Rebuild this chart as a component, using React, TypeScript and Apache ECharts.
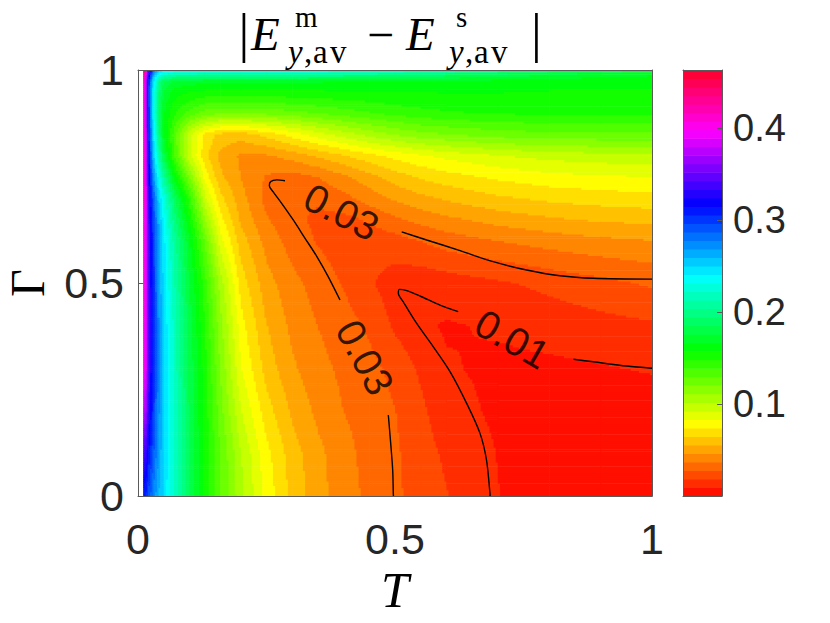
import React, { useEffect, useRef } from "react";
import * as echarts from "echarts";

// Grid nodes
const T_VALUES = [0.01, 0.015, 0.02, 0.03, 0.04, 0.05, 0.07, 0.1, 0.13, 0.16, 0.2, 0.25, 0.3, 0.35, 0.4, 0.45, 0.5, 0.55, 0.6, 0.7, 0.8, 0.9, 1.0];
const GAMMA_VALUES = [0, 0.1, 0.2, 0.3, 0.4, 0.5, 0.6, 0.65, 0.7, 0.75, 0.8, 0.85, 0.9, 0.95, 0.975, 0.99, 1.0];

// |E^m - E^s| estimated at each (T, Gamma) node, one row per Gamma value
const ROW_G000 = [0.31, 0.305, 0.295, 0.275, 0.26, 0.248, 0.222, 0.185, 0.155, 0.13, 0.105, 0.08, 0.062, 0.05, 0.041, 0.035, 0.0295, 0.024, 0.019, 0.0095, 0.005, 0.003, 0.002];
const ROW_G010 = [0.34, 0.335, 0.315, 0.29, 0.268, 0.25, 0.222, 0.184, 0.155, 0.13, 0.102, 0.077, 0.06, 0.049, 0.04, 0.034, 0.0293, 0.0225, 0.017, 0.009, 0.0045, 0.003, 0.002];
const ROW_G020 = [0.38, 0.37, 0.335, 0.3, 0.272, 0.252, 0.222, 0.183, 0.153, 0.125, 0.093, 0.069, 0.054, 0.044, 0.037, 0.0335, 0.028, 0.0205, 0.013, 0.0075, 0.005, 0.0045, 0.0045];
const ROW_G030 = [0.402, 0.392, 0.345, 0.305, 0.274, 0.252, 0.22, 0.182, 0.152, 0.12, 0.084, 0.061, 0.048, 0.04, 0.035, 0.031, 0.025, 0.017, 0.0101, 0.0075, 0.0075, 0.0085, 0.01];
const ROW_G040 = [0.407, 0.395, 0.345, 0.305, 0.273, 0.25, 0.22, 0.18, 0.148, 0.115, 0.078, 0.056, 0.044, 0.037, 0.032, 0.026, 0.017, 0.0105, 0.0085, 0.0102, 0.0125, 0.015, 0.017];
const ROW_G050 = [0.41, 0.396, 0.345, 0.303, 0.27, 0.247, 0.215, 0.176, 0.143, 0.108, 0.07, 0.05, 0.04, 0.033, 0.027, 0.02, 0.0135, 0.012, 0.0135, 0.017, 0.021, 0.025, 0.029];
const ROW_G060 = [0.41, 0.396, 0.343, 0.3, 0.267, 0.244, 0.21, 0.168, 0.128, 0.088, 0.06, 0.043, 0.033, 0.027, 0.023, 0.022, 0.024, 0.028, 0.032, 0.037, 0.041, 0.044, 0.046];
const ROW_G065 = [0.41, 0.396, 0.34, 0.296, 0.262, 0.238, 0.2, 0.157, 0.112, 0.078, 0.054, 0.038, 0.03, 0.026, 0.025, 0.029, 0.035, 0.04, 0.044, 0.05, 0.054, 0.057, 0.058];
const ROW_G070 = [0.412, 0.396, 0.337, 0.288, 0.252, 0.23, 0.19, 0.145, 0.095, 0.068, 0.05, 0.034, 0.028, 0.029, 0.034, 0.041, 0.048, 0.053, 0.057, 0.063, 0.067, 0.069, 0.071];
const ROW_G075 = [0.415, 0.395, 0.33, 0.272, 0.235, 0.208, 0.165, 0.12, 0.08, 0.058, 0.046, 0.036, 0.033, 0.037, 0.044, 0.052, 0.06, 0.066, 0.07, 0.076, 0.08, 0.082, 0.083];
const ROW_G080 = [0.42, 0.392, 0.322, 0.255, 0.212, 0.182, 0.14, 0.095, 0.068, 0.053, 0.045, 0.045, 0.05, 0.057, 0.064, 0.071, 0.077, 0.082, 0.086, 0.092, 0.096, 0.098, 0.1];
const ROW_G085 = [0.42, 0.39, 0.315, 0.245, 0.2, 0.168, 0.135, 0.095, 0.072, 0.062, 0.06, 0.068, 0.078, 0.088, 0.097, 0.105, 0.112, 0.117, 0.12, 0.125, 0.127, 0.128, 0.128];
const ROW_G090 = [0.42, 0.388, 0.31, 0.235, 0.19, 0.167, 0.15, 0.135, 0.125, 0.122, 0.122, 0.123, 0.126, 0.13, 0.134, 0.138, 0.142, 0.145, 0.147, 0.149, 0.15, 0.15, 0.15];
const ROW_G095 = [0.42, 0.385, 0.305, 0.235, 0.197, 0.176, 0.163, 0.158, 0.156, 0.155, 0.155, 0.155, 0.156, 0.156, 0.157, 0.157, 0.158, 0.158, 0.158, 0.158, 0.157, 0.157, 0.157];
const ROW_G0975 = [0.43, 0.385, 0.31, 0.245, 0.205, 0.185, 0.175, 0.171, 0.17, 0.169, 0.169, 0.169, 0.168, 0.168, 0.167, 0.167, 0.166, 0.166, 0.165, 0.163, 0.161, 0.16, 0.159];
const ROW_G099 = [0.44, 0.395, 0.33, 0.265, 0.235, 0.218, 0.21, 0.206, 0.205, 0.205, 0.204, 0.204, 0.203, 0.202, 0.2, 0.198, 0.195, 0.192, 0.189, 0.183, 0.176, 0.171, 0.168];
const ROW_G100 = [0.46, 0.41, 0.35, 0.285, 0.258, 0.245, 0.238, 0.236, 0.235, 0.235, 0.234, 0.233, 0.232, 0.23, 0.228, 0.225, 0.221, 0.216, 0.211, 0.198, 0.188, 0.18, 0.175];

const FIELD_ROWS = [ROW_G000, ROW_G010, ROW_G020, ROW_G030, ROW_G040, ROW_G050, ROW_G060, ROW_G065, ROW_G070, ROW_G075, ROW_G080, ROW_G085, ROW_G090, ROW_G095, ROW_G0975, ROW_G099, ROW_G100];

// Contour lines [T, Gamma], split where the labels sit
const CONTOUR_003_LOWER = [[0.497, 0], [0.4967, 0.006], [0.4955, 0.061], [0.4916, 0.124], [0.487, 0.19]];
const CONTOUR_003_TIP = [[0.393, 0.46], [0.37, 0.515], [0.348, 0.562], [0.325, 0.605], [0.302, 0.648], [0.2795, 0.687], [0.263, 0.714], [0.2555, 0.728], [0.258, 0.738], [0.27, 0.742], [0.286, 0.74]];
const CONTOUR_003_UPPER = [[0.513, 0.62], [0.5616, 0.601], [0.6265, 0.576], [0.691, 0.55], [0.756, 0.5305], [0.821, 0.517], [0.886, 0.511], [1.0, 0.509]];
const CONTOUR_001_RIGHT = [[0.847, 0.321], [0.886, 0.315], [0.951, 0.305], [1.0, 0.3]];
const CONTOUR_001_TIP = [[0.623, 0.433], [0.5875, 0.448], [0.5486, 0.4695], [0.5227, 0.482], [0.5084, 0.485], [0.5065, 0.476], [0.516, 0.456], [0.5422, 0.405], [0.5746, 0.35], [0.607, 0.292], [0.6394, 0.2175], [0.6654, 0.147], [0.678, 0.0845], [0.6848, 0.006], [0.685, 0]];
const CONTOUR_SEGMENTS = [CONTOUR_003_LOWER, CONTOUR_003_TIP, CONTOUR_003_UPPER, CONTOUR_001_RIGHT, CONTOUR_001_TIP];

const CONTOUR_LABEL_TEXT = ["0.03", "0.03", "0.01"];
const CONTOUR_LABEL_POS = [[0.396, 0.667], [0.4416, 0.3255], [0.728, 0.3685]];
const CONTOUR_LABEL_ROTATE = [-27, -62, -30];

const AXIS_TICKS = [0, 0.5, 1];
const COLORBAR_TICKS = [0.1, 0.2, 0.3, 0.4];
const COLOR_MAX = 0.463;
const N_LEVELS = 50;
const HUE_SPAN = 350;

const LEVEL_STEP = COLOR_MAX / N_LEVELS;
const LEVEL_INDEX = Array.from({ length: N_LEVELS }, (_, k) => k);

function hsvColor(h: number): string {
  const hp = h / 60;
  const x = 1 - Math.abs((hp % 2) - 1);
  let r = 0, g = 0, b = 0;
  if (hp < 1) { r = 1; g = x; }
  else if (hp < 2) { r = x; g = 1; }
  else if (hp < 3) { g = 1; b = x; }
  else if (hp < 4) { g = x; b = 1; }
  else if (hp < 5) { r = x; b = 1; }
  else { r = 1; b = x; }
  return `rgb(${Math.round(r * 255)},${Math.round(g * 255)},${Math.round(b * 255)})`;
}
const BAND_COLORS = LEVEL_INDEX.map((k) => hsvColor(((k + 0.5) / N_LEVELS) * HUE_SPAN));
function colorOf(v: number): string {
  let k = Math.floor(v / LEVEL_STEP);
  if (k < 0) k = 0;
  if (k > N_LEVELS - 1) k = N_LEVELS - 1;
  return BAND_COLORS[k];
}

const SUB_PX = 2.2;

function renderField(params: any, api: any) {
  const i = api.value(2) as number;
  const j = api.value(3) as number;
  const pA = api.coord([T_VALUES[i], GAMMA_VALUES[j]]);
  const pB = api.coord([T_VALUES[i + 1], GAMMA_VALUES[j + 1]]);
  const x0 = pA[0];
  const yb = pA[1];
  const w = pB[0] - pA[0];
  const h = pA[1] - pB[1];
  const v00 = FIELD_ROWS[j][i], v10 = FIELD_ROWS[j][i + 1];
  const v01 = FIELD_ROWS[j + 1][i], v11 = FIELD_ROWS[j + 1][i + 1];
  const nx = Math.max(1, Math.ceil(w / SUB_PX));
  const ny = Math.max(1, Math.ceil(h / SUB_PX));
  const children: any[] = [];
  for (let b = 0; b < ny; b++) {
    const fy = (b + 0.5) / ny;
    const yTop = yb - ((b + 1) * h) / ny;
    let start = 0;
    let cur = "";
    for (let a = 0; a <= nx; a++) {
      let c = "";
      if (a < nx) {
        const fx = (a + 0.5) / nx;
        const v = v00 * (1 - fx) * (1 - fy) + v10 * fx * (1 - fy) + v01 * (1 - fx) * fy + v11 * fx * fy;
        c = colorOf(v);
      }
      if (a === nx || c !== cur) {
        if (cur !== "") {
          children.push({
            type: "rect",
            shape: { x: x0 + (start * w) / nx, y: yTop, width: ((a - start) * w) / nx + 0.6, height: h / ny + 0.6 },
            style: { fill: cur },
          });
        }
        start = a;
        cur = c;
      }
    }
  }
  return { type: "group", children };
}

function renderBand(params: any, api: any) {
  const k = api.value(2) as number;
  const lo = api.coord([0, k * LEVEL_STEP]);
  const hi = api.coord([1, (k + 1) * LEVEL_STEP]);
  return {
    type: "rect",
    shape: { x: lo[0], y: hi[1], width: hi[0] - lo[0], height: lo[1] - hi[1] + 0.6 },
    style: { fill: BAND_COLORS[k] },
  };
}

const FRAME = "#5a5a5a";
const TICK_TEXT = "#262626";

function lineOnlyAxis(gridIndex: number, position: string, max: number) {
  return {
    gridIndex,
    type: "value",
    position,
    min: 0,
    max,
    z: 10,
    axisLine: { show: true, onZero: false, lineStyle: { color: FRAME, width: 1 } },
    axisTick: { show: false },
    axisLabel: { show: false },
    splitLine: { show: false },
  };
}

function titleText(x: number, y: number, text: string, size: number, italic: boolean, lineHeight: number) {
  const font = `${italic ? "italic " : ""}${size}px "Liberation Serif"`;
  return {
    type: "text",
    x,
    y,
    silent: true,
    style: { text, font, fill: "#000", align: "left", verticalAlign: "middle", lineHeight },
  };
}

// superscript + subscript "y,av" placed after an italic E
function scripts(x: number, sup: string) {
  const ySup = 17.2;
  const ySub = 51.9;
  return [
    titleText(x + 7, ySup, sup, 29, false, 20),
    titleText(x, ySub, "y", 33, true, 22),
    titleText(x + 16, ySub, ",", 33, false, 22),
    titleText(x + 25, ySub, "a", 33, false, 22),
    titleText(x + 42, ySub, "v", 33, false, 22),
  ];
}

export default function App() {
  const ref = useRef<HTMLDivElement>(null);

  useEffect(() => {
    if (!ref.current) return;
    const chart = echarts.init(ref.current, undefined, { renderer: "svg" });

    const cells: number[][] = [];
    for (let j = 0; j < GAMMA_VALUES.length - 1; j++) {
      for (let i = 0; i < T_VALUES.length - 1; i++) {
        cells.push([T_VALUES[i], GAMMA_VALUES[j], i, j]);
      }
    }
    const bands = LEVEL_INDEX.map((k) => [0.5, (k + 0.5) * LEVEL_STEP, k]);

    const contourSeries = CONTOUR_SEGMENTS.map((seg) => ({
      type: "line",
      xAxisIndex: 0,
      yAxisIndex: 0,
      data: seg,
      smooth: 0.3,
      showSymbol: false,
      symbol: "none",
      silent: true,
      z: 3,
      lineStyle: { color: "#000", width: 1.4 },
    }));

    const option: any = {
      animation: false,
      grid: [
        { left: 138, top: 70, width: 514, height: 426, containLabel: false, outerBoundsMode: "none" },
        { left: 683, top: 70, width: 39, height: 426, containLabel: false, outerBoundsMode: "none" },
      ],
      xAxis: [
        {
          gridIndex: 0,
          type: "value",
          position: "bottom",
          min: AXIS_TICKS[0],
          max: AXIS_TICKS[2],
          interval: AXIS_TICKS[1],
          z: 10,
          axisLine: { show: true, onZero: false, lineStyle: { color: FRAME, width: 1 } },
          axisTick: { show: false },
          splitLine: { show: false },
          axisLabel: { margin: 21, fontSize: 43, color: TICK_TEXT, fontFamily: "Liberation Sans" },
          name: "T",
          nameLocation: "middle",
          nameGap: 67,
          nameTextStyle: { fontSize: 50, lineHeight: 50, fontStyle: "italic", fontFamily: "Liberation Serif", color: "#000" },
        },
        lineOnlyAxis(1, "bottom", 1),
        lineOnlyAxis(1, "top", 1),
        lineOnlyAxis(0, "top", 1),
      ],
      yAxis: [
        {
          gridIndex: 0,
          type: "value",
          position: "left",
          min: AXIS_TICKS[0],
          max: AXIS_TICKS[2],
          interval: AXIS_TICKS[1],
          z: 10,
          axisLine: { show: true, onZero: false, lineStyle: { color: FRAME, width: 1 } },
          axisTick: { show: true, inside: true, length: 5, lineStyle: { color: FRAME } },
          splitLine: { show: false },
          axisLabel: { margin: 14, fontSize: 43, color: TICK_TEXT, fontFamily: "Liberation Sans" },
          name: "Γ",
          nameLocation: "middle",
          nameGap: 91,
          nameRotate: 90,
          nameTextStyle: { fontSize: 48, lineHeight: 40, fontFamily: "Liberation Serif", color: "#000" },
        },
        {
          gridIndex: 1,
          type: "value",
          position: "right",
          min: 0,
          max: COLOR_MAX,
          z: 10,
          axisLine: { show: true, onZero: false, lineStyle: { color: FRAME, width: 1 } },
          axisTick: { show: true, inside: true, length: 5, customValues: COLORBAR_TICKS, lineStyle: { color: FRAME } },
          splitLine: { show: false },
          axisLabel: { customValues: COLORBAR_TICKS, margin: 11, fontSize: 38, color: TICK_TEXT, fontFamily: "Liberation Sans" },
        },
        lineOnlyAxis(1, "left", COLOR_MAX),
        lineOnlyAxis(0, "right", 1),
      ],
      series: [
        {
          type: "custom",
          xAxisIndex: 0,
          yAxisIndex: 0,
          data: cells,
          renderItem: renderField,
          silent: true,
          z: 2,
        },
        {
          type: "custom",
          xAxisIndex: 1,
          yAxisIndex: 1,
          data: bands,
          renderItem: renderBand,
          silent: true,
          z: 2,
        },
        ...contourSeries,
        {
          type: "scatter",
          xAxisIndex: 0,
          yAxisIndex: 0,
          symbolSize: 1,
          itemStyle: { color: "rgba(0,0,0,0)" },
          silent: true,
          z: 4,
          data: CONTOUR_LABEL_POS.map((p, k) => ({
            value: p,
            name: CONTOUR_LABEL_TEXT[k],
            label: { rotate: CONTOUR_LABEL_ROTATE[k] },
          })),
          label: {
            show: true,
            position: "inside",
            formatter: "{b}",
            fontSize: 40,
            color: "#000",
            fontFamily: "Liberation Sans",
          },
        },
      ],
      graphic: [
        titleText(238.5, 33, "|", 54, false, 54),
        titleText(251, 34, "E", 47, true, 38),
        ...scripts(288, "m"),
        titleText(367, 34, "−", 48, false, 36),
        titleText(406, 34, "E", 47, true, 38),
        ...scripts(449, "s"),
        titleText(531, 33, "|", 54, false, 54),
      ],
    };

    chart.setOption(option);
    return () => chart.dispose();
  }, []);

  return <div ref={ref} style={{ position: "absolute", left: 0, top: 0, width: 830, height: 623 }} />;
}
